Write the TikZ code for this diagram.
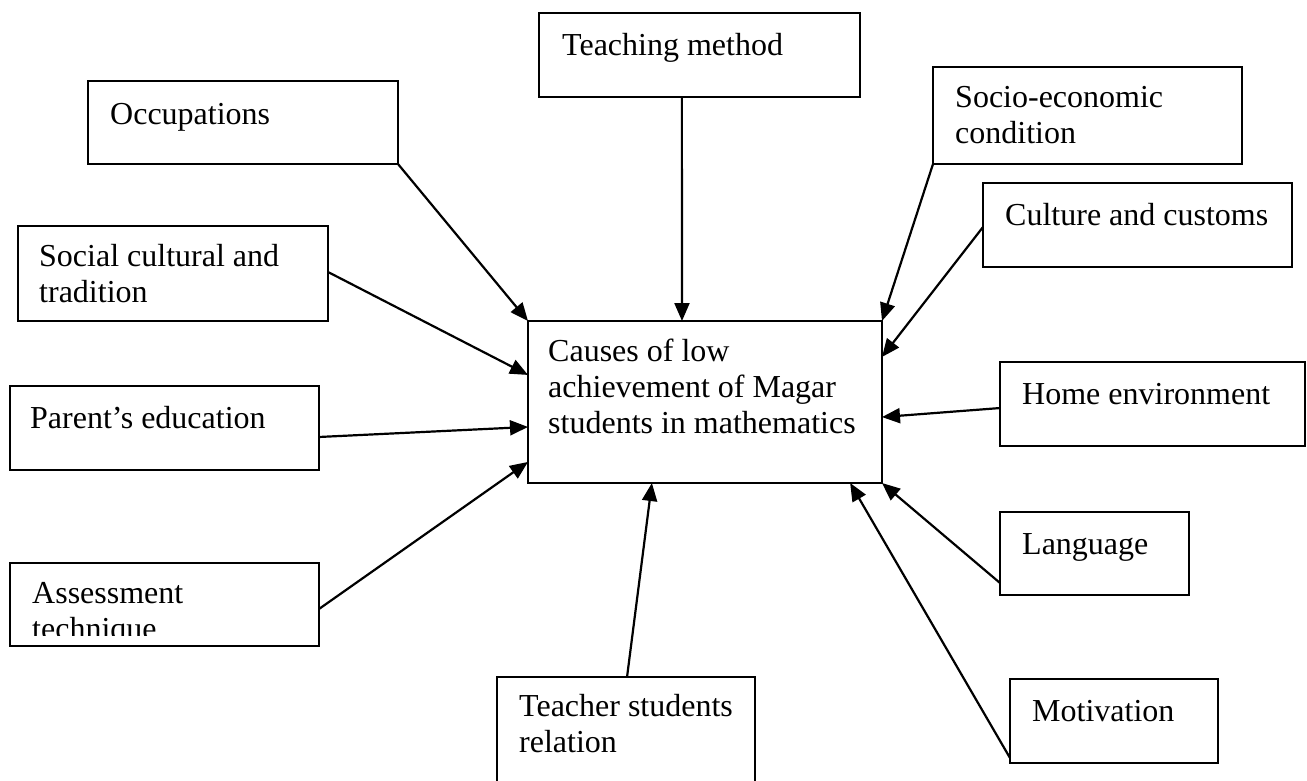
\documentclass[tikz,border=0pt]{standalone}
\usepackage{fontspec}
\setmainfont{Liberation Serif}
\usetikzlibrary{arrows.meta,calc}
\begin{document}
\begin{tikzpicture}[x=1pt,y=-1pt,
  box/.style={draw,line width=2pt,rectangle,inner sep=0pt,outer sep=0pt,anchor=north west},
  lbl/.style={anchor=north west,inner sep=0pt,align=left,font=\fontsize{32}{36}\selectfont,execute at begin node={\rule{0pt}{24pt}}},
  link/.style={line width=2.2pt,-{Triangle[length=18pt,width=15pt]}}]
\useasboundingbox (0,0) rectangle (1307,780);
\clip (0,0) rectangle (1307,780);
% boxes
\node[box,minimum width=310pt,minimum height=83pt] (occ) at (88,81) {};
\node[box,minimum width=321pt,minimum height=84pt] (teach) at (539,13) {};
\node[box,minimum width=309pt,minimum height=97pt] (socio) at (933,67) {};
\node[box,minimum width=309pt,minimum height=84pt] (cult) at (983,183) {};
\node[box,minimum width=310pt,minimum height=95pt] (soc) at (18,226) {};
\node[box,minimum width=354pt,minimum height=162pt] (ctr) at (528,321) {};
\node[box,minimum width=309pt,minimum height=84pt] (par) at (10,386) {};
\node[box,minimum width=305pt,minimum height=84pt] (home) at (1000,362) {};
\node[box,minimum width=189pt,minimum height=83pt] (lang) at (1000,512) {};
\node[box,minimum width=309pt,minimum height=83pt] (ass) at (10,563) {};
\node[box,minimum width=258pt,minimum height=123pt] (tsr) at (497,677) {};
\node[box,minimum width=208pt,minimum height=84pt] (mot) at (1010,679) {};
% labels
\node[lbl] (occ-t) at (110,100) {Occupations};
\node[lbl] (teach-t) at (562,31) {Teaching method};
\node[lbl] (socio-t) at (955,86) {Socio-economic\\condition};
\node[lbl] (cult-t) at (1005,201) {Culture and customs};
\node[lbl] (soc-t) at (39,244) {Social cultural and\\tradition};
\node[lbl] (ctr-t) at (548,339) {Causes of low\\achievement of Magar\\students in mathematics};
\node[lbl] (par-t) at (30,404) {Parent’s education};
\node[lbl] (home-t) at (1022,380) {Home environment};
\node[lbl] (lang-t) at (1022,530) {Language};
\begin{scope}
\clip (10,563) rectangle (319,635);
\node[lbl] (ass-t) at (32,582) {Assessment\\technique};
\end{scope}
\node[lbl] (tsr-t) at (519,694) {Teacher students\\relation};
\node[lbl] (mot-t) at (1032,697) {Motivation};
% connectors
\draw[link] (occ.south east) -- (ctr.north west);
\draw[link] ($(teach.south west)!0.445!(teach.south east)$) -- ($(ctr.north west)!0.435!(ctr.north east)$);
\draw[link] (socio.south west) -- (ctr.north east);
\draw[link] ($(cult.north west)!0.524!(cult.south west)$) -- ($(ctr.north east)!0.222!(ctr.south east)$);
\draw[link] ($(soc.north east)!0.484!(soc.south east)$) -- ($(ctr.north west)!0.333!(ctr.south west)$);
\draw[link] ($(par.north east)!0.607!(par.south east)$) -- ($(ctr.north west)!0.654!(ctr.south west)$);
\draw[link] ($(ass.north east)!0.554!(ass.south east)$) -- ($(ctr.north west)!0.870!(ctr.south west)$);
\draw[link] ($(home.north west)!0.548!(home.south west)$) -- ($(ctr.north east)!0.593!(ctr.south east)$);
\draw[link] ($(lang.north west)!0.855!(lang.south west)$) -- (ctr.south east);
\draw[link] ($(mot.north west)!0.94!(mot.south west)$) -- ($(ctr.south west)!0.910!(ctr.south east)$);
\draw[link] ($(tsr.north west)!0.504!(tsr.north east)$) -- ($(ctr.south west)!0.350!(ctr.south east)$);
\end{tikzpicture}
\end{document}
